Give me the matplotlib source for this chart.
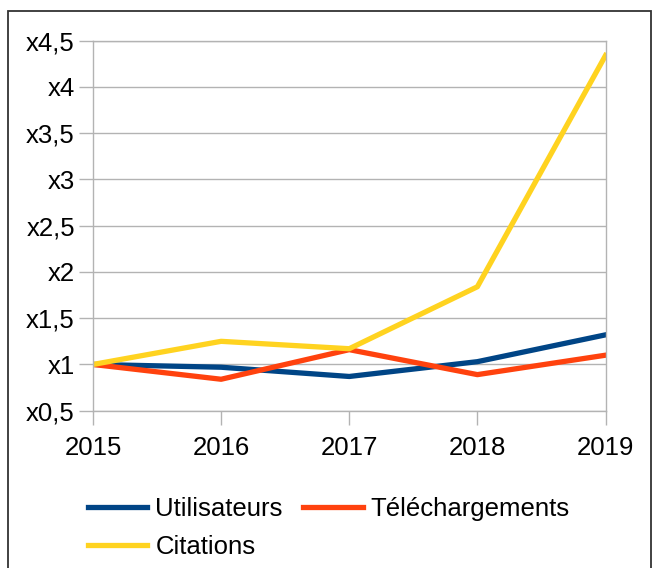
import matplotlib

matplotlib.use("Agg")
import matplotlib.pyplot as plt
from matplotlib.patches import Rectangle

years = ["2015", "2016", "2017", "2018", "2019"]
utilisateurs = [1.0, 0.97, 0.87, 1.03, 1.32]
telechargements = [1.0, 0.84, 1.16, 0.89, 1.10]
citations = [1.0, 1.25, 1.17, 1.84, 4.34]

y_ticks = [0.5, 1.0, 1.5, 2.0, 2.5, 3.0, 3.5, 4.0, 4.5]
y_tick_labels = ["x0,5", "x1", "x1,5", "x2", "x2,5", "x3", "x3,5", "x4", "x4,5"]

W, H, DPI = 654, 568, 100
GRID = "#b3b3b3"

plt.rcParams["font.family"] = ["Liberation Sans", "DejaVu Sans"]

fig = plt.figure(figsize=(W / DPI, H / DPI), dpi=DPI)

# outer frame (bottom edge runs off the image)
fig.add_artist(Rectangle((8 / W, -0.05), (651 - 8) / W, 1.05 - 11 / H,
                         transform=fig.transFigure, fill=False,
                         edgecolor="#333333", linewidth=1.3))

left, right, top, bottom = 93, 605.5, 40.7, 410.7
ax = fig.add_axes([left / W, 1 - bottom / H, (right - left) / W, (bottom - top) / H])

x = range(len(years))
l1, = ax.plot(x, utilisateurs, color="#004586", lw=3.8, label="Utilisateurs")
l2, = ax.plot(x, telechargements, color="#ff420e", lw=3.8, label="Téléchargements")
l3, = ax.plot(x, citations, color="#ffd320", lw=3.8, label="Citations")

ax.set_xlim(0, len(years) - 1)
ax.set_ylim(0.5, 4.5)
ax.set_xticks(list(x))
ax.set_xticklabels(years)
ax.set_yticks(y_ticks)
ax.set_yticklabels(y_tick_labels)
ax.grid(axis="y", color=GRID, lw=1)
ax.set_axisbelow(True)
for s in ax.spines.values():
    s.set_color(GRID)
    s.set_linewidth(1)
ax.tick_params(axis="both", colors=GRID, labelcolor="black", labelsize=18.5,
               length=10, width=1)
ax.tick_params(axis="y", pad=3)
ax.tick_params(axis="x", pad=8)

fig.legend([l1, l3, l2], ["Utilisateurs", "Citations", "Téléchargements"],
           ncol=2, loc="center", bbox_to_anchor=(329 / W, 1 - 528 / H),
           frameon=False, fontsize=18.5, handlelength=2.3, handletextpad=0.32,
           columnspacing=0.8, labelspacing=0.55, borderpad=0)

fig.savefig("out.png", dpi=DPI, facecolor="white")
